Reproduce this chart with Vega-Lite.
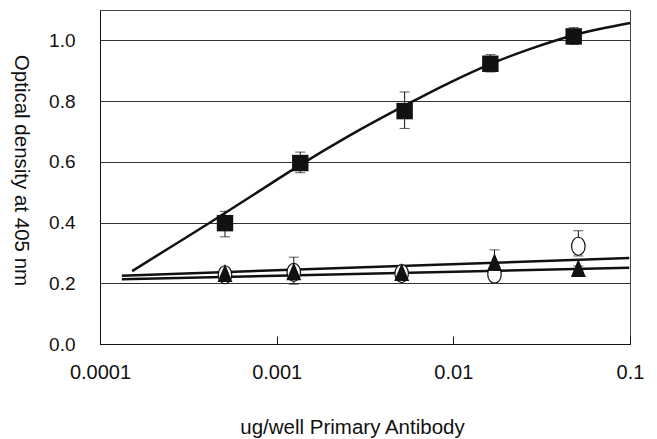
{
  "$schema": "https://vega.github.io/schema/vega-lite/v6.json",
  "width": 530,
  "height": 334,
  "autosize": {"type": "none"},
  "padding": {"left": 100, "top": 10, "right": 27, "bottom": 95},
  "background": "white",
  "config": {
    "view": {"stroke": "#444", "strokeWidth": 1},
    "font": "Liberation Sans",
    "axis": {"labelFont": "Liberation Sans", "titleFont": "Liberation Sans", "labelColor": "#111", "titleColor": "#111", "labelFontSize": 19, "titleFontSize": 20.5, "titleFontWeight": "normal", "domainColor": "#111", "tickColor": "#111"}
  },
  "datasets": {
    "pts": [
      {"s": "square", "x": 0.00051, "y": 0.398, "lo": 0.353, "hi": 0.437},
      {"s": "square", "x": 0.00136, "y": 0.596, "lo": 0.564, "hi": 0.632},
      {"s": "square", "x": 0.0053, "y": 0.767, "lo": 0.71, "hi": 0.83},
      {"s": "square", "x": 0.0162, "y": 0.923, "lo": 0.896, "hi": 0.953},
      {"s": "square", "x": 0.048, "y": 1.013, "lo": 0.987, "hi": 1.042},
      {"s": "circle", "x": 0.00051, "y": 0.228, "lo": 0.22, "hi": 0.236},
      {"s": "circle", "x": 0.00125, "y": 0.236, "lo": 0.23, "hi": 0.242},
      {"s": "circle", "x": 0.0051, "y": 0.232, "lo": 0.225, "hi": 0.239},
      {"s": "circle", "x": 0.0171, "y": 0.23, "lo": 0.222, "hi": 0.238},
      {"s": "circle", "x": 0.051, "y": 0.322, "lo": 0.29, "hi": 0.373},
      {"s": "triangle", "x": 0.00051, "y": 0.234, "lo": 0.228, "hi": 0.24},
      {"s": "triangle", "x": 0.00125, "y": 0.24, "lo": 0.197, "hi": 0.286},
      {"s": "triangle", "x": 0.0051, "y": 0.237, "lo": 0.23, "hi": 0.244},
      {"s": "triangle", "x": 0.0171, "y": 0.27, "lo": 0.25, "hi": 0.31},
      {"s": "triangle", "x": 0.051, "y": 0.25, "lo": 0.243, "hi": 0.257}
    ],
    "fits": [
      {"s": "squareFit", "x": 0.000152, "y": 0.24},
      {"s": "squareFit", "x": 0.000249, "y": 0.318},
      {"s": "squareFit", "x": 0.00042, "y": 0.4},
      {"s": "squareFit", "x": 0.000755, "y": 0.495},
      {"s": "squareFit", "x": 0.00136, "y": 0.59},
      {"s": "squareFit", "x": 0.00261, "y": 0.688},
      {"s": "squareFit", "x": 0.00571, "y": 0.795},
      {"s": "squareFit", "x": 0.00961, "y": 0.862},
      {"s": "squareFit", "x": 0.0162, "y": 0.922},
      {"s": "squareFit", "x": 0.0273, "y": 0.972},
      {"s": "squareFit", "x": 0.0479, "y": 1.017},
      {"s": "squareFit", "x": 0.1, "y": 1.057},
      {"s": "fitA", "x": 0.000133, "y": 0.225},
      {"s": "fitA", "x": 0.099, "y": 0.283},
      {"s": "fitB", "x": 0.000133, "y": 0.213},
      {"s": "fitB", "x": 0.099, "y": 0.251}
    ]
  },
  "encoding": {
    "x": {"field": "x", "type": "quantitative", "scale": {"type": "log", "domain": [0.0001, 0.1], "nice": false},
      "axis": {"values": [0.0001, 0.001, 0.01, 0.1], "labelExpr": "datum.value < 0.0005 ? '0.0001' : datum.value < 0.005 ? '0.001' : datum.value < 0.05 ? '0.01' : '0.1'", "grid": false, "tickSize": -8, "labelPadding": 26, "title": "ug/well Primary Antibody", "titleX": 252, "titleY": 83, "titleBaseline": "middle", "titleAlign": "center", "labelFlush": false, "labelFontSize": 20}},
    "y": {"field": "y", "type": "quantitative", "scale": {"domain": [0, 1.1], "nice": false},
      "axis": {"values": [0, 0.2, 0.4, 0.6, 0.8, 1.0], "format": ".1f", "grid": true, "gridColor": "#333", "gridWidth": 1, "gridOpacity": 1, "ticks": false, "tickSize": 0, "labelPadding": 25, "title": "Optical density at 405 nm", "titleAngle": 90, "titleX": -80, "titleY": 160, "titleAlign": "center", "titleBaseline": "middle"}}
  },
  "layer": [
    {
      "data": {"name": "fits"},
      "mark": {"type": "line", "color": "#111", "strokeWidth": 2.5, "interpolate": "monotone"},
      "encoding": {"detail": {"field": "s"}}
    },
    {
      "data": {"name": "pts"},
      "mark": {"type": "rule", "color": "#111", "strokeWidth": 1},
      "encoding": {"y": {"field": "lo", "type": "quantitative"}, "y2": {"field": "hi"}}
    },
    {
      "data": {"name": "pts"},
      "mark": {"type": "tick", "orient": "horizontal", "color": "#111", "size": 10, "thickness": 1},
      "encoding": {"y": {"field": "hi", "type": "quantitative"}}
    },
    {
      "data": {"name": "pts"},
      "mark": {"type": "tick", "orient": "horizontal", "color": "#111", "size": 10, "thickness": 1},
      "encoding": {"y": {"field": "lo", "type": "quantitative"}}
    },
    {
      "data": {"name": "pts"},
      "transform": [{"filter": "datum.s === 'circle'"}],
      "mark": {"type": "point", "shape": "M -0.75 0 A 0.75 1 0 1 0 0.75 0 A 0.75 1 0 1 0 -0.75 0 Z", "size": 324, "filled": true, "fill": "white", "stroke": "#111", "strokeWidth": 1.2, "opacity": 1}
    },
    {
      "data": {"name": "pts"},
      "transform": [{"filter": "datum.s === 'triangle'"}],
      "mark": {"type": "point", "shape": "M 0 -1 L 0.83 1 L -0.83 1 Z", "size": 324, "filled": true, "color": "#111", "opacity": 1}
    },
    {
      "data": {"name": "pts"},
      "transform": [{"filter": "datum.s === 'square'"}],
      "mark": {"type": "point", "shape": "square", "size": 270, "filled": true, "color": "#111", "opacity": 1}
    }
  ]
}
